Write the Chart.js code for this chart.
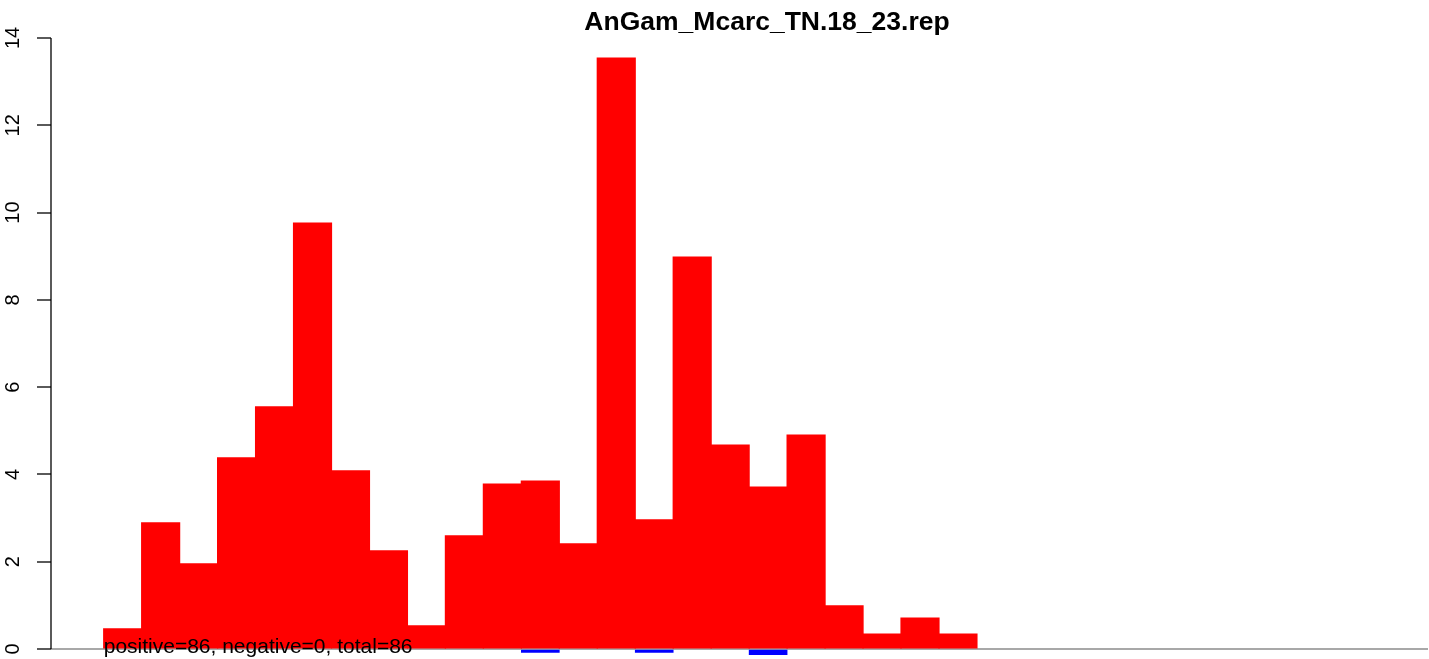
<!DOCTYPE html>
<html lang="en">

<head>
    <meta charset="UTF-8">
    <title>AnGam_Mcarc_TN.18_23.rep</title>
    <script src="https://cdn.jsdelivr.net/npm/chart.js"></script>
    <style>
        html, body { margin: 0; padding: 0; background: #fff; }
        #wrap { width: 1429px; height: 659px; }
    </style>
</head>

<body>
    <div id="wrap"><canvas id="repChart" width="1429" height="659"></canvas></div>
    <script>
        // bin index of each bar
        const bins = [1, 2, 3, 4, 5, 6, 7, 8, 9, 10, 11, 12, 13, 14, 15, 16, 17, 18, 19, 20, 21, 22, 23];
        const positive = [0.46, 2.89, 1.95, 4.38, 5.55, 9.76, 4.08, 2.25, 0.53, 2.59, 3.78, 3.85, 2.41,
            13.54, 2.96, 8.98, 4.67, 3.71, 4.90, 0.99, 0.34, 0.71, 0.34];
        const negative = [null, null, null, null, null, null, null, null, null, null, null, -0.08, null,
            null, -0.08, null, null, -0.13, null, null, null, null, null];
        const yTicks = [0, 2, 4, 6, 8, 10, 12, 14];
        const title = 'AnGam_Mcarc_TN.18_23.rep';
        const note = 'positive=86, negative=0, total=86';

        const FONT = 'Liberation Sans, Arial, Helvetica, sans-serif';

        // y axis line (only from 0 to 14, like R) plus the title and the note
        const rDecor = {
            id: 'rDecor',
            afterDraw(chart) {
                const ctx = chart.ctx;
                const y = chart.scales.y;
                const x = chart.scales.x;
                const left = chart.chartArea.left;
                ctx.save();
                ctx.strokeStyle = '#000';
                ctx.lineWidth = 1.3;
                ctx.beginPath();
                ctx.moveTo(left, y.getPixelForValue(yTicks[0]));
                ctx.lineTo(left, y.getPixelForValue(yTicks[yTicks.length - 1]));
                ctx.stroke();

                ctx.fillStyle = '#000';
                ctx.font = 'bold 26.5px ' + FONT;
                ctx.textAlign = 'center';
                ctx.textBaseline = 'middle';
                ctx.fillText(title, 767, 23);

                ctx.font = '21px ' + FONT;
                ctx.textAlign = 'left';
                ctx.textBaseline = 'alphabetic';
                ctx.fillText(note, x.getPixelForValue(bins[0] - 0.5), 653);
                ctx.restore();
            }
        };

        const ctx = document.getElementById('repChart').getContext('2d');
        new Chart(ctx, {
            type: 'bar',
            data: {
                datasets: [{
                    label: 'positive',
                    data: bins.map((b, i) => ({ x: b, y: positive[i] })),
                    backgroundColor: '#ff0000',
                    borderWidth: 0,
                    inflateAmount: 0.6,
                    grouped: false,
                    barPercentage: 1,
                    categoryPercentage: 1
                }, {
                    label: 'negative',
                    data: bins.map((b, i) => ({ x: b, y: negative[i] })),
                    backgroundColor: '#0000ff',
                    borderWidth: 0,
                    grouped: false,
                    barPercentage: 1,
                    categoryPercentage: 1
                }]
            },
            plugins: [rDecor],
            options: {
                responsive: false,
                animation: false,
                layout: { padding: { top: 38, right: 1, bottom: 0, left: 0 } },
                plugins: {
                    legend: { display: false },
                    tooltip: { enabled: false },
                    title: { display: false }
                },
                scales: {
                    x: {
                        type: 'linear',
                        min: -0.888,
                        max: 35.38,
                        offset: false,
                        grid: { offset: false },
                        display: false
                    },
                    y: {
                        min: -0.229,
                        max: 14,
                        afterBuildTicks: s => { s.ticks = yTicks.map(v => ({ value: v })); },
                        afterFit: s => {
                            s.width = 51;
                            s.paddingTop = 0;
                            s.paddingBottom = 0;
                        },
                        border: { display: false },
                        grid: {
                            drawOnChartArea: true,
                            color: c => (c.tick && c.tick.value === 0) ? '#a8a8a8' : 'rgba(0,0,0,0)',
                            lineWidth: 2,
                            tickColor: '#000',
                            tickWidth: 1.3,
                            tickLength: 14
                        },
                        ticks: {
                            color: '#000',
                            font: { family: FONT, size: 20 },
                            minRotation: 90,
                            maxRotation: 90,
                            crossAlign: 'center',
                            padding: 12
                        }
                    }
                }
            }
        });
    </script>
</body>

</html>
